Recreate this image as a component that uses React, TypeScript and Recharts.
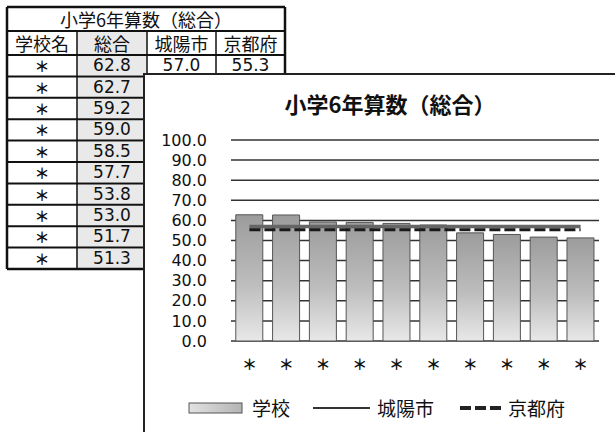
import React from 'react';
import { ComposedChart, Bar, Line, XAxis, YAxis, CartesianGrid } from 'recharts';

const title = '小学6年算数（総合）';
const schoolNames = ['＊', '＊', '＊', '＊', '＊', '＊', '＊', '＊', '＊', '＊'];
const schoolScores = [62.8, 62.7, 59.2, 59.0, 58.5, 57.7, 53.8, 53.0, 51.7, 51.3];
const cityScores = [57.0, 57.0, 57.0, 57.0, 57.0, 57.0, 57.0, 57.0, 57.0, 57.0];
const prefScores = [55.3, 55.3, 55.3, 55.3, 55.3, 55.3, 55.3, 55.3, 55.3, 55.3];
const yTicks = [0, 10, 20, 30, 40, 50, 60, 70, 80, 90, 100];
const headers = ['学校名', '総合', '城陽市', '京都府'];
const seriesNames = ['学校', '城陽市', '京都府'];

const data = schoolNames.map((name, i) => ({
  name,
  学校: schoolScores[i],
  城陽市: cityScores[i],
  京都府: prefScores[i],
}));

const FONT = '"DejaVu Sans", "Noto Sans CJK JP", sans-serif';
const CJK = '"Noto Sans CJK JP", "DejaVu Sans", sans-serif';

function DataTable() {
  const colX = [7, 77, 147, 216, 285];
  const rowY = [7, 31, 55];
  for (let i = 1; i <= schoolScores.length; i++) rowY.push(55 + i * 21.4);
  const lastY = rowY[rowY.length - 1];
  const cells: React.ReactNode[] = [];
  const put = (key: string, x0: number, x1: number, y0: number, y1: number, text: string, style: React.CSSProperties, bg?: string) => {
    cells.push(
      <div
        key={key}
        style={{
          position: 'absolute',
          left: x0,
          top: y0 + 1,
          width: x1 - x0,
          height: y1 - y0 - 2,
          display: 'flex',
          alignItems: 'center',
          justifyContent: 'center',
          background: bg || 'transparent',
          color: '#111',
          lineHeight: 1,
          whiteSpace: 'nowrap',
          overflow: 'visible',
          ...style,
        }}
      >
        <span style={{ lineHeight: 1 }}>{text}</span>
      </div>
    );
  };
  put('t', colX[0], colX[4], rowY[0], rowY[1], title, { fontFamily: CJK, fontSize: 18 });
  headers.forEach((h, c) =>
    put('h' + c, colX[c], colX[c + 1], rowY[1], rowY[2], h, { fontFamily: CJK, fontSize: 18 }, c === 1 ? '#e9e9e9' : undefined)
  );
  schoolScores.forEach((v, r) => {
    const y0 = rowY[r + 2];
    const y1 = rowY[r + 3];
    put('a' + r, colX[0], colX[1], y0, y1, schoolNames[r], { fontFamily: CJK, fontSize: 15, fontWeight: 700 });
    put('b' + r, colX[1], colX[2], y0, y1, v.toFixed(1), { fontFamily: FONT, fontSize: 17 }, '#e9e9e9');
    if (r === 0) {
      put('c' + r, colX[2], colX[3], y0, y1, cityScores[0].toFixed(1), { fontFamily: FONT, fontSize: 17 });
      put('d' + r, colX[3], colX[4], y0, y1, prefScores[0].toFixed(1), { fontFamily: FONT, fontSize: 17 });
    }
  });
  const lines: React.ReactNode[] = [];
  rowY.forEach((y, i) => {
    lines.push(<line key={'hl' + i} x1={colX[0]} x2={colX[4]} y1={y} y2={y} stroke="#111" strokeWidth={i === 0 || i === rowY.length - 1 ? 2.5 : 2} />);
  });
  colX.forEach((x, i) => {
    lines.push(
      <line key={'vl' + i} x1={x} x2={x} y1={i === 0 || i === 4 ? rowY[0] : rowY[1]} y2={lastY} stroke="#111" strokeWidth={i === 0 || i === 4 ? 2.5 : 1.5} />
    );
  });
  return (
    <>
      {cells}
      <svg style={{ position: 'absolute', left: 0, top: 0 }} width={300} height={300}>
        {lines}
      </svg>
    </>
  );
}

function LegendOverlay() {
  const textStyle: React.CSSProperties = {
    position: 'absolute',
    top: 398,
    fontFamily: CJK,
    fontSize: 19,
    lineHeight: '20px',
    color: '#111',
    whiteSpace: 'nowrap',
  };
  return (
    <>
      <svg style={{ position: 'absolute', left: 0, top: 0 }} width={615} height={432}>
        <defs>
          <linearGradient id="legGrad" x1="0" y1="0" x2="1" y2="0">
            <stop offset="0%" stopColor="#e2e2e2" />
            <stop offset="100%" stopColor="#b4b4b4" />
          </linearGradient>
        </defs>
        <rect x={189} y={403} width={53} height={10} fill="url(#legGrad)" stroke="#555" strokeWidth={1} />
        <line x1={313} y1={408} x2={370} y2={408} stroke="#333" strokeWidth={2} />
        <line x1={460} y1={408} x2={502} y2={408} stroke="#222" strokeWidth={4} strokeDasharray="11 4" />
      </svg>
      <div style={{ ...textStyle, left: 252 }}>{seriesNames[0]}</div>
      <div style={{ ...textStyle, left: 377 }}>{seriesNames[1]}</div>
      <div style={{ ...textStyle, left: 508 }}>{seriesNames[2]}</div>
    </>
  );
}

export default function App() {
  return (
    <div
      style={{
        position: 'absolute',
        left: 0,
        top: 0,
        width: 615,
        height: 432,
        overflow: 'hidden',
        background: '#fff',
      }}
    >
      <DataTable />
      <div
        style={{
          position: 'absolute',
          left: 143,
          top: 73,
          width: 480,
          height: 370,
          borderLeft: '2px solid #222',
          borderTop: '2px solid #222',
          background: '#fff',
        }}
      />
      <div
        style={{
          position: 'absolute',
          left: 152,
          top: 90,
          width: 476,
          textAlign: 'center',
          fontFamily: CJK,
          fontSize: 22,
          fontWeight: 700,
          color: '#111',
          lineHeight: '26px',
        }}
      >
        {title}
      </div>
      <div style={{ position: 'absolute', left: 144, top: 74 }}>
        <ComposedChart
          width={471}
          height={358}
          data={data}
          margin={{ top: 66, right: 16, left: 27, bottom: 61 }}
          barCategoryGap="13%"
        >
          <defs>
            <linearGradient id="barGrad" x1="0" y1="0" x2="0" y2="1">
              <stop offset="0%" stopColor="#9c9c9c" />
              <stop offset="55%" stopColor="#bdbdbd" />
              <stop offset="100%" stopColor="#e8e8e8" />
            </linearGradient>
          </defs>
          <CartesianGrid vertical={false} stroke="#333" strokeWidth={1.5} />
          <XAxis
            dataKey="name"
            axisLine={false}
            tickLine={false}
            tickSize={0}
            tickMargin={18}
            height={30}
            interval={0}
            tick={{ fontSize: 15, fontWeight: 700, fill: '#111', fontFamily: CJK }}
          />
          <YAxis
            domain={[0, 100]}
            ticks={yTicks}
            interval={0}
            width={60}
            axisLine={false}
            tickLine={false}
            tickSize={0}
            tickMargin={24}
            tickFormatter={(v: number) => v.toFixed(1)}
            tick={{ fontSize: 16, fill: '#111', fontFamily: FONT }}
          />
          <Bar dataKey="学校" fill="url(#barGrad)" stroke="#555" strokeWidth={1} isAnimationActive={false} />
          <Line
            dataKey="城陽市"
            type="linear"
            stroke="#666"
            strokeWidth={3.5}
            dot={false}
            activeDot={false}
            isAnimationActive={false}
          />
          <Line
            dataKey="京都府"
            type="linear"
            stroke="#1a1a1a"
            strokeWidth={3}
            strokeDasharray="11 4"
            dot={false}
            activeDot={false}
            isAnimationActive={false}
          />
        </ComposedChart>
      </div>
      <LegendOverlay />
    </div>
  );
}
